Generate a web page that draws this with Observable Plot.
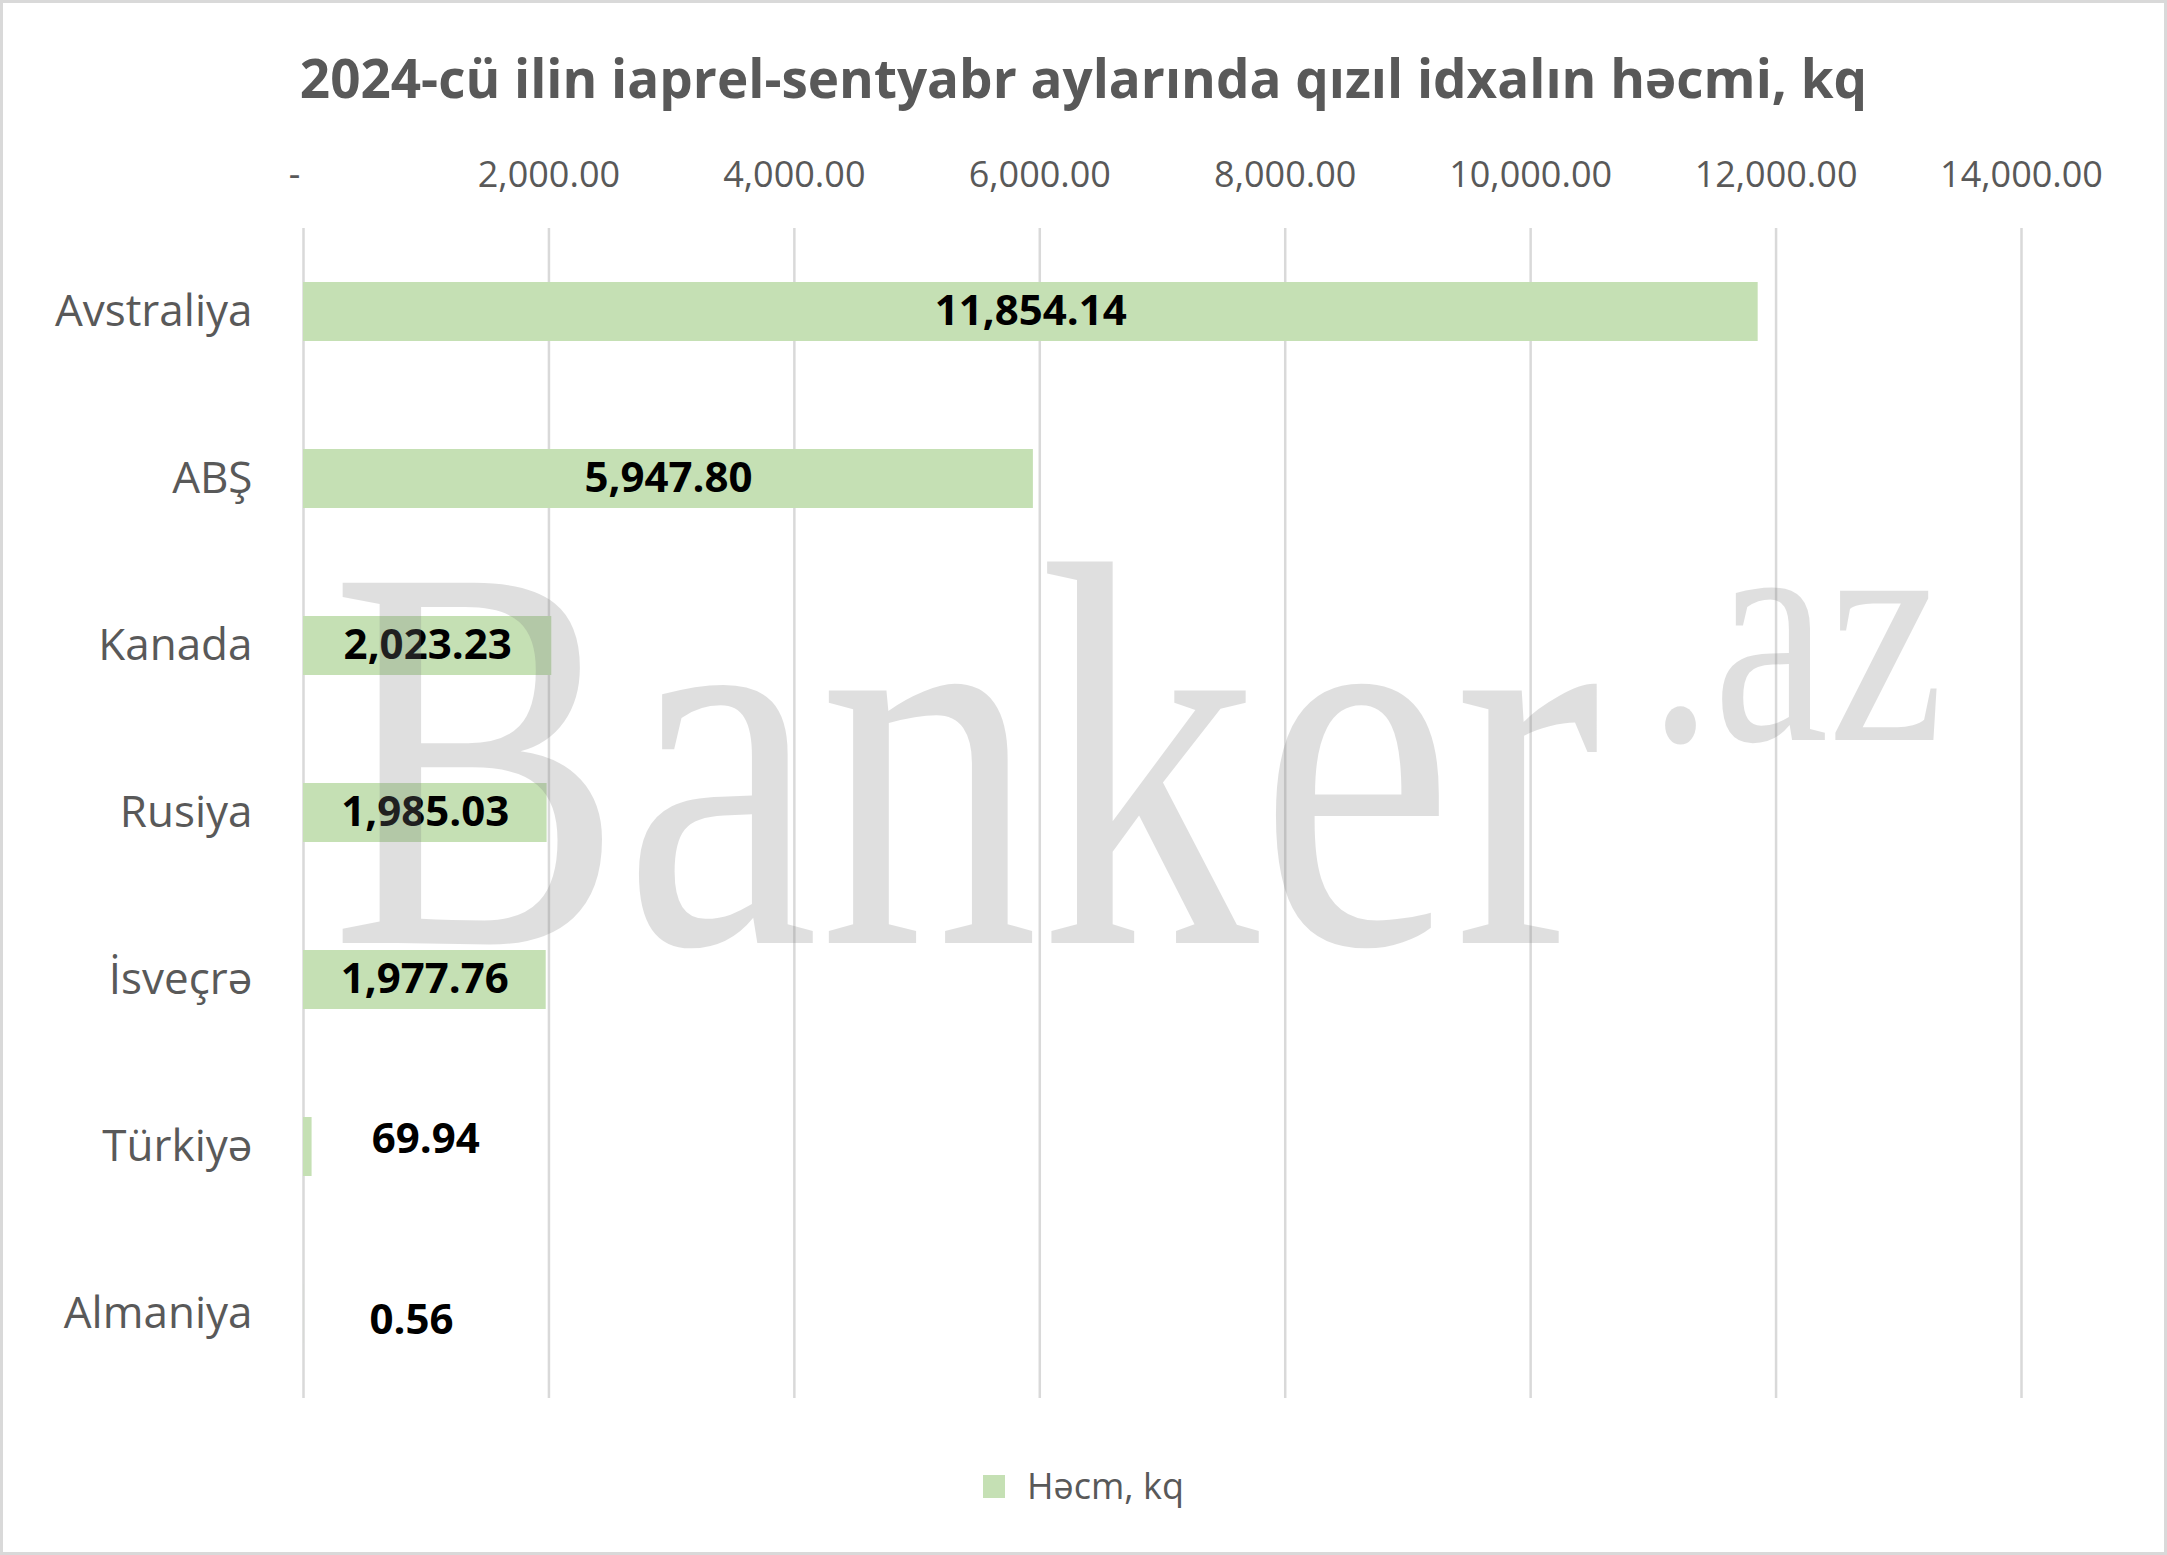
<!DOCTYPE html>
<html>
<head>
<meta charset="utf-8">
<script src="https://cdn.jsdelivr.net/npm/d3@7"></script>
<script src="https://cdn.jsdelivr.net/npm/@observablehq/plot@0.6"></script>
<style>
  html, body { margin: 0; padding: 0; background: #fff; }
  #page { position: relative; width: 2167px; height: 1555px; background: #fff; overflow: hidden; font-family: "Open Sans", sans-serif; }
  #border { position: absolute; left: 0; top: 0; width: 2167px; height: 1555px; box-sizing: border-box; border: 3px solid #d9d9d9; pointer-events: none; z-index: 5; }
  #title { position: absolute; left: 0; width: 2167px; top: 51px; text-align: center; font-size: 53px; line-height: 53px; font-weight: 700; color: #595959; white-space: nowrap; }
  #chart { position: absolute; left: 0; top: 130px; }
  #watermark { position: absolute; left: 0; top: 0; pointer-events: none; z-index: 3; }
  #legend { position: absolute; left: 0; width: 2167px; top: 1468px; display: flex; justify-content: center; align-items: center; gap: 22px; font-size: 36px; line-height: 36px; color: #595959; }
  #legend .sw { width: 22px; height: 23px; background: #c5e0b4; }
</style>
</head>
<body>
<div id="page">
  <div id="title"></div>
  <div id="chart"></div>
  <svg id="watermark" width="2167" height="1555"></svg>
  <div id="legend"><span class="sw"></span><span id="legendText"></span></div>
  <div id="border"></div>
</div>
<script>
const titleText = "2024-cü ilin iaprel-sentyabr aylarında qızıl idxalın həcmi, kq";
const seriesName = "Həcm, kq";
const categories = ["Avstraliya", "ABŞ", "Kanada", "Rusiya", "İsveçrə", "Türkiyə", "Almaniya"];
const values = [11854.14, 5947.80, 2023.23, 1985.03, 1977.76, 69.94, 0.56];
const xTicks = [0, 2000, 4000, 6000, 8000, 10000, 12000, 14000];
const watermarkMain = "Banker";
const watermarkSup = ".az";

const data = categories.map((c, i) => ({country: c, value: values[i]}));
const num = d3.format(",.2f");
const tickFmt = d => d === 0 ? "-\u2002" : num(d);

document.getElementById("title").textContent = titleText;
document.getElementById("legendText").textContent = seriesName;

const big = data.filter(d => d.value >= 1000);
const tur = data.filter(d => d.country === "Türkiyə");
const alm = data.filter(d => d.country === "Almaniya");
const labelStyle = {x: d => d.value / 2, y: "country", text: d => num(d.value), fontWeight: "bold", fontSize: 42, fill: "#000"};

const chart = Plot.plot({
  width: 2167,
  height: 1270,
  marginLeft: 303,
  marginRight: 146,
  marginTop: 98,
  marginBottom: 2,
  style: {background: "transparent", fontFamily: "'Open Sans', sans-serif", overflow: "visible"},
  x: {domain: [0, 14000]},
  y: {domain: categories, paddingInner: 0.645, paddingOuter: 0.3225},
  marks: [
    Plot.gridX(xTicks, {stroke: "#d9d9d9", strokeOpacity: 1, strokeWidth: 2.5}),
    Plot.barX(data, {x: "value", y: "country", fill: "#c5e0b4"}),
    Plot.axisX({anchor: "top", ticks: xTicks, tickSize: 0, tickPadding: 42, tickFormat: tickFmt, fontSize: 36, fill: "#595959", label: null}),
    Plot.axisY({tickSize: 0, tickPadding: 51, fontSize: 44, fill: "#595959", label: null}),
    Plot.text(big, labelStyle),
    Plot.text(tur, {...labelStyle, dx: 118, dy: -7}),
    Plot.text(alm, {...labelStyle, dx: 108, dy: 7})
  ]
});
document.getElementById("chart").appendChild(chart);

// Watermark (decorative overlay)
const wm = d3.select("#watermark");
wm.append("text")
  .attr("transform", "translate(330,943) scale(0.8,1)")
  .attr("font-family", "'Liberation Serif', serif")
  .attr("font-size", 550)
  .attr("fill", "#808080").attr("fill-opacity", 0.25)
  .text(watermarkMain);
wm.append("text")
  .attr("transform", "translate(1648,740) scale(0.8,1)")
  .attr("font-family", "'Liberation Serif', serif")
  .attr("font-size", 325)
  .attr("fill", "#808080").attr("fill-opacity", 0.25)
  .text(watermarkSup);
</script>
</body>
</html>
